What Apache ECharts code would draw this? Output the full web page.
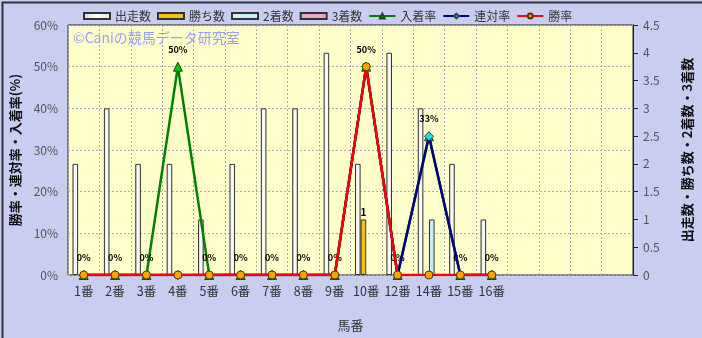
<!DOCTYPE html>
<html><head><meta charset="utf-8">
<script src="https://cdn.jsdelivr.net/npm/echarts@6/dist/echarts.min.js"></script>
<style>html,body{margin:0;padding:0;background:#c9cdf0}#c{width:702px;height:338px}</style>
</head><body><div id="c"></div>
<script>
const categories = ['1番','2番','3番','4番','5番','6番','7番','8番','9番','10番','12番','14番','15番','16番','','','',''];
const starts   = [2,3,2,2,1,2,3,3,4,2,4,3,2,1];
const wins     = [0,0,0,0,0,0,0,0,0,1,0,0,0,0];
const seconds  = [0,0,0,0,0,0,0,0,0,0,0,1,0,0];
const thirds   = [0,0,0,0,0,0,0,0,0,0,0,0,0,0];
const placeRate    = [0,0,0,50,0,0,0,0,0,50,0,33.3,0,0];
const quinellaRate = [0,0,0,0,0,0,0,0,0,50,0,33.3,0,0];
const winRate      = [0,0,0,0,0,0,0,0,0,50,0,0,0,0];
const leftTicks = {min:0,max:60,interval:10};
const rightTicks = {min:0,max:4.5,interval:0.5};

const FONT = '"Noto Sans CJK JP", "Noto Sans", sans-serif';
const nz = a => a.map(v => v === 0 ? '-' : v);
const barBase = (color, name, data, extra) => Object.assign({
  name, type:'bar', yAxisIndex:1, data, barWidth:5.6, barGap:'0%',
  itemStyle:{color, borderColor:'#333', borderWidth:1}
}, extra||{});
const whiteGrad = new echarts.graphic.LinearGradient(0,0,1,0,[{offset:0,color:'#d8d8d8'},{offset:0.5,color:'#ffffff'},{offset:1,color:'#e4e4e4'}]);

const chart = echarts.init(document.getElementById('c'), null, {renderer:'canvas'});
chart.setOption({
  animation:false,
  backgroundColor:'#c9cdf0',
  textStyle:{fontFamily:FONT},
  grid:{left:68,right:69,top:25,bottom:63,show:true,backgroundColor:'#ffffcc',borderColor:'#222',borderWidth:1},
  legend:{
    top:10,left:83,padding:0,itemWidth:26,itemHeight:6,itemGap:6,
    textStyle:{fontSize:12,color:'#333',fontFamily:FONT},
    data:[{name:'出走数',icon:'rect'},{name:'勝ち数',icon:'rect'},{name:'2着数',icon:'rect'},{name:'3着数',icon:'rect'},'入着率','連対率','勝率']
  },
  graphic:[
    {type:'text',left:73,top:31,z:1,style:{text:'©Caniの競馬データ研究室',fill:'#9c9cf2',font:'14px '+FONT}},
    {type:'rect',left:0,top:0,shape:{x:0,y:0,width:701,height:337},style:{fill:'none',stroke:'#333',lineWidth:2},silent:true,z:100}
  ],
  xAxis:{
    type:'category',data:categories,boundaryGap:true,
    name:'馬番',nameLocation:'middle',nameGap:44,
    nameTextStyle:{fontSize:13,color:'#333'},
    axisLine:{show:false},axisTick:{show:false},
    axisLabel:{fontSize:12.5,color:'#333',margin:10,interval:0},
    splitLine:{show:true,interval:0,lineStyle:{color:'#aaa',type:[2,2],width:1}}
  },
  yAxis:[
    {type:'value',min:leftTicks.min,max:leftTicks.max,interval:leftTicks.interval,position:'left',
     name:'勝率・連対率・入着率(%)',nameLocation:'middle',nameRotate:90,nameGap:46,
     nameTextStyle:{fontSize:13,color:'#111',fontWeight:'bold'},
     axisLine:{show:false},axisTick:{show:false},
     axisLabel:{formatter:'{value}%',fontSize:12,color:'#555',margin:10},
     splitLine:{show:true,lineStyle:{color:'#aaa',type:[2,2],width:1}}},
    {type:'value',min:rightTicks.min,max:rightTicks.max,interval:rightTicks.interval,position:'right',
     name:'出走数・勝ち数・2着数・3着数',nameLocation:'middle',nameRotate:90,nameGap:48,
     nameTextStyle:{fontSize:13,color:'#111',fontWeight:'bold'},
     axisLine:{show:true,lineStyle:{color:'#222'}},axisTick:{show:true,length:5,lineStyle:{color:'#222'}},
     axisLabel:{fontSize:12,color:'#555',margin:10},
     splitLine:{show:false}}
  ],
  series:[
    barBase(whiteGrad,'出走数',starts),
    barBase('#f2c10a','勝ち数',nz(wins),{label:{show:true,position:'top',distance:2,fontSize:10,color:'#000',fontWeight:'bold'}}),
    barBase('#c4f2f2','2着数',nz(seconds)),
    barBase('#f4a6c8','3着数',nz(thirds)),
    {name:'入着率',type:'line',data:placeRate,yAxisIndex:0,z:3,
     lineStyle:{color:'#008000',width:2.5},symbol:'triangle',symbolSize:9,
     itemStyle:{color:'#00cc00',borderColor:'#224422',borderWidth:1},
     label:{show:true,position:'top',distance:8,fontSize:9,fontWeight:'bold',color:'#000',
            formatter:p=>Math.round(p.value)+'%'}},
    {name:'連対率',type:'line',data:quinellaRate,yAxisIndex:0,z:4,
     lineStyle:{color:'#000080',width:2.5},symbol:'diamond',symbolSize:9,
     itemStyle:{color:'#22dddd',borderColor:'#224444',borderWidth:1}},
    {name:'勝率',type:'line',data:winRate,yAxisIndex:0,z:5,
     lineStyle:{color:'#ff0000',width:2.5},symbol:'circle',symbolSize:8,
     itemStyle:{color:'#ffa500',borderColor:'#553300',borderWidth:1}}
  ]
});
</script></body></html>
